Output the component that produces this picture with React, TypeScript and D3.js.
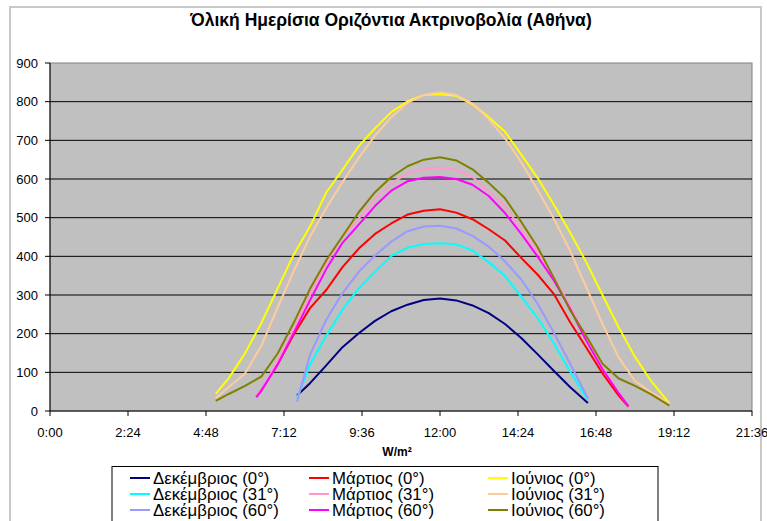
import React from 'react';
import * as d3 from 'd3';

const W = 767;
const H = 521;

const titleText = 'Όλική Ημερίσια Οριζόντια Ακτρινοβολία (Αθήνα)';
const xAxisTitle = 'W/m²';
const xTickLabels = ['0:00', '2:24', '4:48', '7:12', '9:36', '12:00', '14:24', '16:48', '19:12', '21:36'];
const yTickValues = [0, 100, 200, 300, 400, 500, 600, 700, 800, 900];

// times in decimal hours
const decTimes = [7.6, 8, 8.5, 9, 9.5, 10, 10.5, 11, 11.5, 12, 12.5, 13, 13.5, 14, 14.5, 15, 15.5, 16, 16.55];
const dec0 = [40, 72, 118, 165, 201, 233, 258, 275, 287, 291, 286, 273, 253, 225, 189, 147, 104, 62, 21];
const dec31 = [33, 120, 195, 262, 317, 360, 401, 422, 432, 434, 431, 415, 385, 349, 296, 241, 176, 103, 28];
const dec60 = [24, 145, 236, 305, 360, 402, 438, 465, 477, 479, 472, 453, 425, 387, 340, 278, 203, 123, 33];

const marTimes = [6.35, 6.5, 7, 7.5, 8, 8.5, 9, 9.5, 10, 10.5, 11, 11.5, 12, 12.5, 13, 13.5, 14, 14.5, 15, 15.5, 16, 16.5, 17, 17.5, 17.8];
const mar0 = [37, 55, 120, 198, 266, 313, 372, 420, 458, 485, 508, 518, 522, 513, 496, 470, 441, 396, 353, 303, 230, 164, 97, 40, 11];
const mar31 = [37, 55, 128, 212, 300, 383, 452, 498, 548, 588, 615, 627, 630, 624, 605, 568, 530, 470, 412, 348, 272, 188, 112, 48, 12];
const mar60 = [35, 52, 120, 202, 286, 367, 435, 482, 530, 570, 594, 603, 605, 600, 585, 556, 512, 458, 400, 338, 265, 182, 108, 46, 12];

const junTimes = [5.1, 5.5, 6, 6.5, 7, 7.5, 8, 8.5, 9, 9.5, 10, 10.5, 11, 11.5, 12, 12.5, 13, 13.5, 14, 14.5, 15, 15.5, 16, 16.5, 17, 17.5, 18, 18.5, 19.06];
const jun0 = [44, 85, 149, 227, 316, 405, 477, 565, 624, 685, 731, 773, 801, 817, 819, 815, 793, 760, 722, 663, 603, 534, 462, 385, 300, 216, 140, 77, 20];
const jun31 = [33, 62, 97, 168, 267, 362, 451, 525, 592, 655, 712, 760, 797, 817, 824, 817, 795, 755, 705, 643, 572, 498, 415, 320, 225, 138, 78, 48, 20];
const jun60 = [26, 44, 65, 89, 148, 228, 316, 390, 452, 514, 566, 605, 633, 650, 656, 648, 625, 590, 550, 489, 424, 345, 261, 194, 122, 84, 65, 43, 14];

const seriesNames = [
  'Δεκέμβριος (0°)', 'Δεκέμβριος (31°)', 'Δεκέμβριος (60°)',
  'Μάρτιος (0°)', 'Μάρτιος (31°)', 'Μάρτιος (60°)',
  'Ιούνιος (0°)', 'Ιούνιος (31°)', 'Ιούνιος (60°)',
];
const seriesColors = [
  '#000080', '#00ffff', '#9999ff',
  '#ff0000', '#ff99cc', '#ff00ff',
  '#ffff00', '#ffcc99', '#808000',
];
const seriesTimes = [decTimes, decTimes, decTimes, marTimes, marTimes, marTimes, junTimes, junTimes, junTimes];
const seriesValues = [dec0, dec31, dec60, mar0, mar31, mar60, jun0, jun31, jun60];

const FONT = '"Liberation Sans", Arial, sans-serif';

export default function App() {
  const left = 50, right = 752, top = 63, bottom = 411;
  const x = d3.scaleLinear().domain([0, 21.6]).range([left, right]);
  const y = d3.scaleLinear().domain([0, 900]).range([bottom, top]);
  const line = d3.line<[number, number]>().x(d => x(d[0])).y(d => y(d[1]));

  const series = seriesNames.map((name, i) => ({
    name,
    color: seriesColors[i],
    pts: seriesTimes[i].map((t, j) => [t, seriesValues[i][j]] as [number, number]),
  }));

  const legendCols = [130, 309, 488];
  const legendRows = [478, 494, 510];

  return (
    <svg width={W} height={H} style={{ position: 'absolute', left: 0, top: 0, background: '#fff' }}>
      <rect x={10} y={7} width={751} height={530} fill="#fff" stroke="#c8c8c8" strokeWidth={2} />
      <text x={391} y={26} textAnchor="middle" fontFamily={FONT} fontWeight="bold" fontSize={17.5}>{titleText}</text>
      <rect x={left} y={top} width={right - left} height={bottom - top} fill="#c0c0c0" stroke="#808080" strokeWidth={1} />
      {yTickValues.filter(v => v > 0 && v < 900).map(v => (
        <line key={'g' + v} x1={left} x2={right} y1={y(v)} y2={y(v)} stroke="#000" strokeWidth={1} />
      ))}
      {series.map(s => (
        <path key={s.name} d={line(s.pts) || ''} fill="none" stroke={s.color} strokeWidth={2} strokeLinejoin="round" />
      ))}
      <line x1={left} x2={left} y1={top} y2={bottom} stroke="#000" strokeWidth={1} />
      <line x1={left} x2={right} y1={bottom} y2={bottom} stroke="#000" strokeWidth={1} />
      {yTickValues.map(v => (
        <g key={'y' + v}>
          <line x1={left - 5} x2={left} y1={y(v)} y2={y(v)} stroke="#000" />
          <text x={38} y={y(v) + 4.5} textAnchor="end" fontFamily={FONT} fontSize={13}>{v}</text>
        </g>
      ))}
      {xTickLabels.map((lab, i) => {
        const xv = x(i * 2.4);
        return (
          <g key={'x' + lab}>
            <line x1={xv} x2={xv} y1={bottom} y2={bottom + 5} stroke="#000" />
            <text x={xv} y={437} textAnchor="middle" fontFamily={FONT} fontSize={13}>{lab}</text>
          </g>
        );
      })}
      <text x={397} y={456} textAnchor="middle" fontFamily={FONT} fontWeight="bold" fontSize={12}>{xAxisTitle}</text>
      <rect x={112} y={466.5} width={546} height={70} fill="#fff" stroke="#000" strokeWidth={1} />
      {series.map((s, i) => {
        const col = Math.floor(i / 3);
        const row = i % 3;
        const lx = legendCols[col];
        const ly = legendRows[row];
        return (
          <g key={'l' + s.name}>
            <line x1={lx} x2={lx + 20} y1={ly} y2={ly} stroke={s.color} strokeWidth={2} />
            <text x={lx + 23} y={ly + 6} fontFamily={FONT} fontSize={16.8}>{s.name}</text>
          </g>
        );
      })}
    </svg>
  );
}
